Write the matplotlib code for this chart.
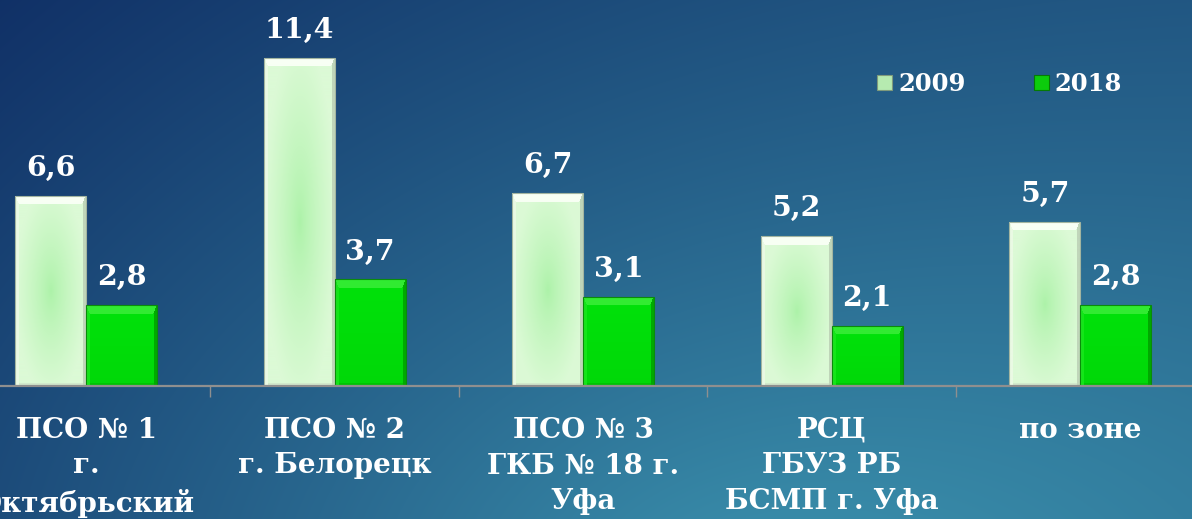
import numpy as np
import matplotlib.pyplot as plt
from matplotlib.patches import Patch

# data
categories = ["ПСО № 1\nг.\nОктябрьский", "ПСО № 2\nг. Белорецк",
              "ПСО № 3\nГКБ № 18 г.\nУфа", "РСЦ\nГБУЗ РБ\nБСМП г. Уфа", "по зоне"]
series_names = ["2009", "2018"]
v2009 = [6.6, 11.4, 6.7, 5.2, 5.7]
v2018 = [2.8, 3.7, 3.1, 2.1, 2.8]

W, H = 1192, 519
fig = plt.figure(figsize=(W / 100, H / 100), dpi=100)

# background gradient
bg = fig.add_axes([0, 0, 1, 1])
yy, xx = np.mgrid[0:H, 0:W]
d = np.sqrt(((xx - 760) / 950.0) ** 2 + ((yy - 600) / 560.0) ** 2)
t = np.clip(1 - d / 1.45, 0, 1) ** 1.2
t = np.clip(0.78 * t + 0.28 * xx / W, 0, 1)
c0 = np.array([15, 45, 100]) / 255
c1 = np.array([62, 152, 178]) / 255
img = c0 + (c1 - c0) * t[..., None]
bg.imshow(img, aspect="auto", extent=[0, 1, 0, 1], origin="upper")
bg.axis("off")

# main axes: baseline at y=386 px, group width 248.5 px
ax = fig.add_axes([-38 / W, 133 / H, 1242.5 / W, 386 / H])
ax.patch.set_alpha(0)
x = np.arange(len(categories))
w = 0.285
ax.set_xlim(-0.5, len(categories) - 0.5)
ax.set_ylim(0, 386 / 28.8)

bars1 = ax.bar(x - w / 2, v2009, w, facecolor="none", edgecolor="#a3b5a0", lw=0.8, zorder=3)
bars2 = ax.bar(x + w / 2, v2018, w, facecolor="none", edgecolor="#0a8c0a", lw=0.8, zorder=3)


def bevel_img(wpx, hpx, kind):
    hpx = max(int(round(hpx)), 12)
    wpx = int(round(wpx))
    r, c = np.mgrid[0:hpx, 0:wpx]
    dt = r + 0.5
    db = hpx - r - 0.5
    dl = c + 0.5
    dr = wpx - c - 0.5
    if kind == 0:
        u = (c - wpx / 2) / (wpx / 2)
        v = (r - hpx * 0.5) / (hpx * 0.55)
        g = np.clip(np.sqrt(u ** 2 + v ** 2), 0, 1) ** 0.8
        cin = np.array([172, 242, 168])
        cout = np.array([220, 250, 214])
        im = cin + (cout - cin) * g[..., None]
        top = np.array([248, 255, 244])
        left = np.array([234, 250, 228])
        right = np.array([192, 214, 186])
        bot = np.array([210, 232, 204])
    else:
        v = r / hpx
        im = np.zeros((hpx, wpx, 3)) + (np.array([0, 226, 10]) - np.array([0, 10, 2]) * v[..., None])
        top = np.array([50, 236, 50])
        left = np.array([20, 230, 25])
        right = np.array([0, 170, 0])
        bot = np.array([0, 195, 5])
    b = 9
    s = 4
    mt = (dt < b) & (dt * s / b <= dl) & (dt * s / b <= dr)
    ml = (dl < s) & ~mt
    mr = (dr < s - 1) & ~mt
    mb = (db < 3) & ~ml & ~mr
    im[mt] = top
    im[ml] = left
    im[mr] = right
    im[mb] = bot
    return im / 255


for kind, bars in enumerate([bars1, bars2]):
    for rect in bars:
        x0, h, bw = rect.get_x(), rect.get_height(), rect.get_width()
        im = bevel_img(bw * 248.5, h * 28.8, kind)
        ai = ax.imshow(im, extent=[x0, x0 + bw, 0, h], aspect="auto", origin="upper", zorder=2)
        ai.set_clip_path(rect)

# value labels
for bars, vals in [(bars1, v2009), (bars2, v2018)]:
    for rect, v in zip(bars, vals):
        ax.annotate(f"{v:.1f}".replace(".", ","), (rect.get_x() + rect.get_width() / 2, v),
                    xytext=(0, 10), textcoords="offset points", ha="center", va="bottom",
                    color="white", fontsize=20.5, fontweight="bold", family="DejaVu Serif")

ax.set_yticks([])
for sp in ["top", "right", "left"]:
    ax.spines[sp].set_visible(False)
ax.spines["bottom"].set_color("#8f8f8f")
ax.spines["bottom"].set_linewidth(1.6)
ax.spines["bottom"].set_zorder(4)
ax.set_xticks(x)
ax.set_xticklabels(categories, fontsize=20, fontweight="bold", family="DejaVu Serif",
                   color="white", linespacing=1.42, va="top")
ax.tick_params(axis="x", which="major", length=0, pad=22)
ax.set_xticks(x[:-1] + 0.5, minor=True)
ax.tick_params(axis="x", which="minor", length=8, width=1, color="#8f8f8f")

handles = [Patch(facecolor="#b6eab0", edgecolor="#7f9a7c", lw=0.8),
           Patch(facecolor="#0ccc0c", edgecolor="#067a06", lw=0.8)]
leg = fig.legend(handles, series_names, loc="center left", bbox_to_anchor=(877 / W, 1 - 84 / H),
                 ncol=2, frameon=False, borderpad=0, borderaxespad=0, handlelength=0.62,
                 handleheight=0.62, handletextpad=0.25, columnspacing=2.8,
                 prop={"family": "DejaVu Serif", "weight": "bold", "size": 17.5})
for txt in leg.get_texts():
    txt.set_color("white")

fig.savefig("out.png", dpi=100)
